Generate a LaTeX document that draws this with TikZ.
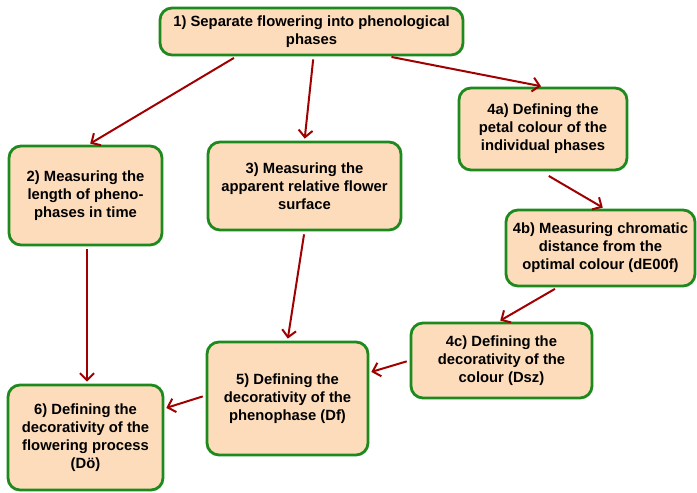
\documentclass[tikz,border=0pt]{standalone}
\usepackage{fontspec}
\setmainfont{Liberation Sans}
\usepackage{tikz}
\usetikzlibrary{arrows.meta}

\definecolor{boxfill}{HTML}{FDDCBB}
\definecolor{boxline}{HTML}{1E8A1E}
\definecolor{arrred}{HTML}{A00000}

\tikzset{
  phase/.style={draw=boxline,fill=boxfill,line width=2.8pt,rounded corners=12pt,
    align=center,inner sep=0pt,font=\fontsize{14.8}{18}\selectfont\bfseries},
  flow/.style={draw=arrred,line width=2pt,-{Straight Barb[length=7pt,width=14pt,line width=2pt]},
    shorten <=3pt,shorten >=2pt}
}

\begin{document}
\begin{tikzpicture}[x=1pt,y=-1pt]
\useasboundingbox (0,0) rectangle (697,493);
\node[phase,minimum width=303pt,minimum height=47pt] (p_1)  at (311.5,31.5) {1) Separate flowering into phenological\\phases};
\node[phase,minimum width=168pt,minimum height=82pt] (p_4a) at (543,129)    {4a) Defining the\\petal colour of the\\individual phases};
\node[phase,minimum width=153pt,minimum height=99pt] (p_2)  at (85.5,195.5) {2) Measuring the\\length of pheno-\\phases in time};
\node[phase,minimum width=193pt,minimum height=88pt] (p_3)  at (304.5,186)  {3) Measuring the\\apparent relative flower\\surface};
\node[phase,minimum width=189pt,minimum height=76pt] (p_4b) at (600.5,248)  {4b) Measuring chromatic\\distance from the\\optimal colour (dE00f)};
\node[phase,minimum width=181pt,minimum height=75pt] (p_4c) at (501.5,360.5) {4c) Defining the\\decorativity of the\\colour (Dsz)};
\node[phase,minimum width=161pt,minimum height=113pt] (p_5) at (287.5,398.5) {5) Defining the\\decorativity of the\\phenophase (Df)};
\node[phase,minimum width=155pt,minimum height=105pt] (p_6) at (85.5,437.5) {6) Defining the\\decorativity of the\\flowering process\\(Dö)};

\draw[flow] ([xshift=-75pt]p_1.south) -- ([xshift=3pt]p_2.north);
\draw[flow] ([xshift=2pt]p_1.south)   -- (p_3.north);
\draw[flow] ([xshift=77pt]p_1.south)  -- (p_4a.north);
\draw[flow,shorten <=9pt] ([xshift=-2pt]p_4a.south) -- ([xshift=4pt]p_4b.north);
\draw[flow] ([xshift=-43pt]p_4b.south) -- ([xshift=-3pt]p_4c.north);
\draw[flow] (p_3.south) -- (p_5.north);
\draw[flow] ([xshift=1.5pt]p_2.south) -- ([xshift=1.5pt]p_6.north);
\draw[flow] (p_4c.west) -- ([yshift=26pt]p_5.east);
\draw[flow] ([yshift=3pt]p_5.west) -- ([yshift=29pt]p_6.east);
\end{tikzpicture}
\end{document}
